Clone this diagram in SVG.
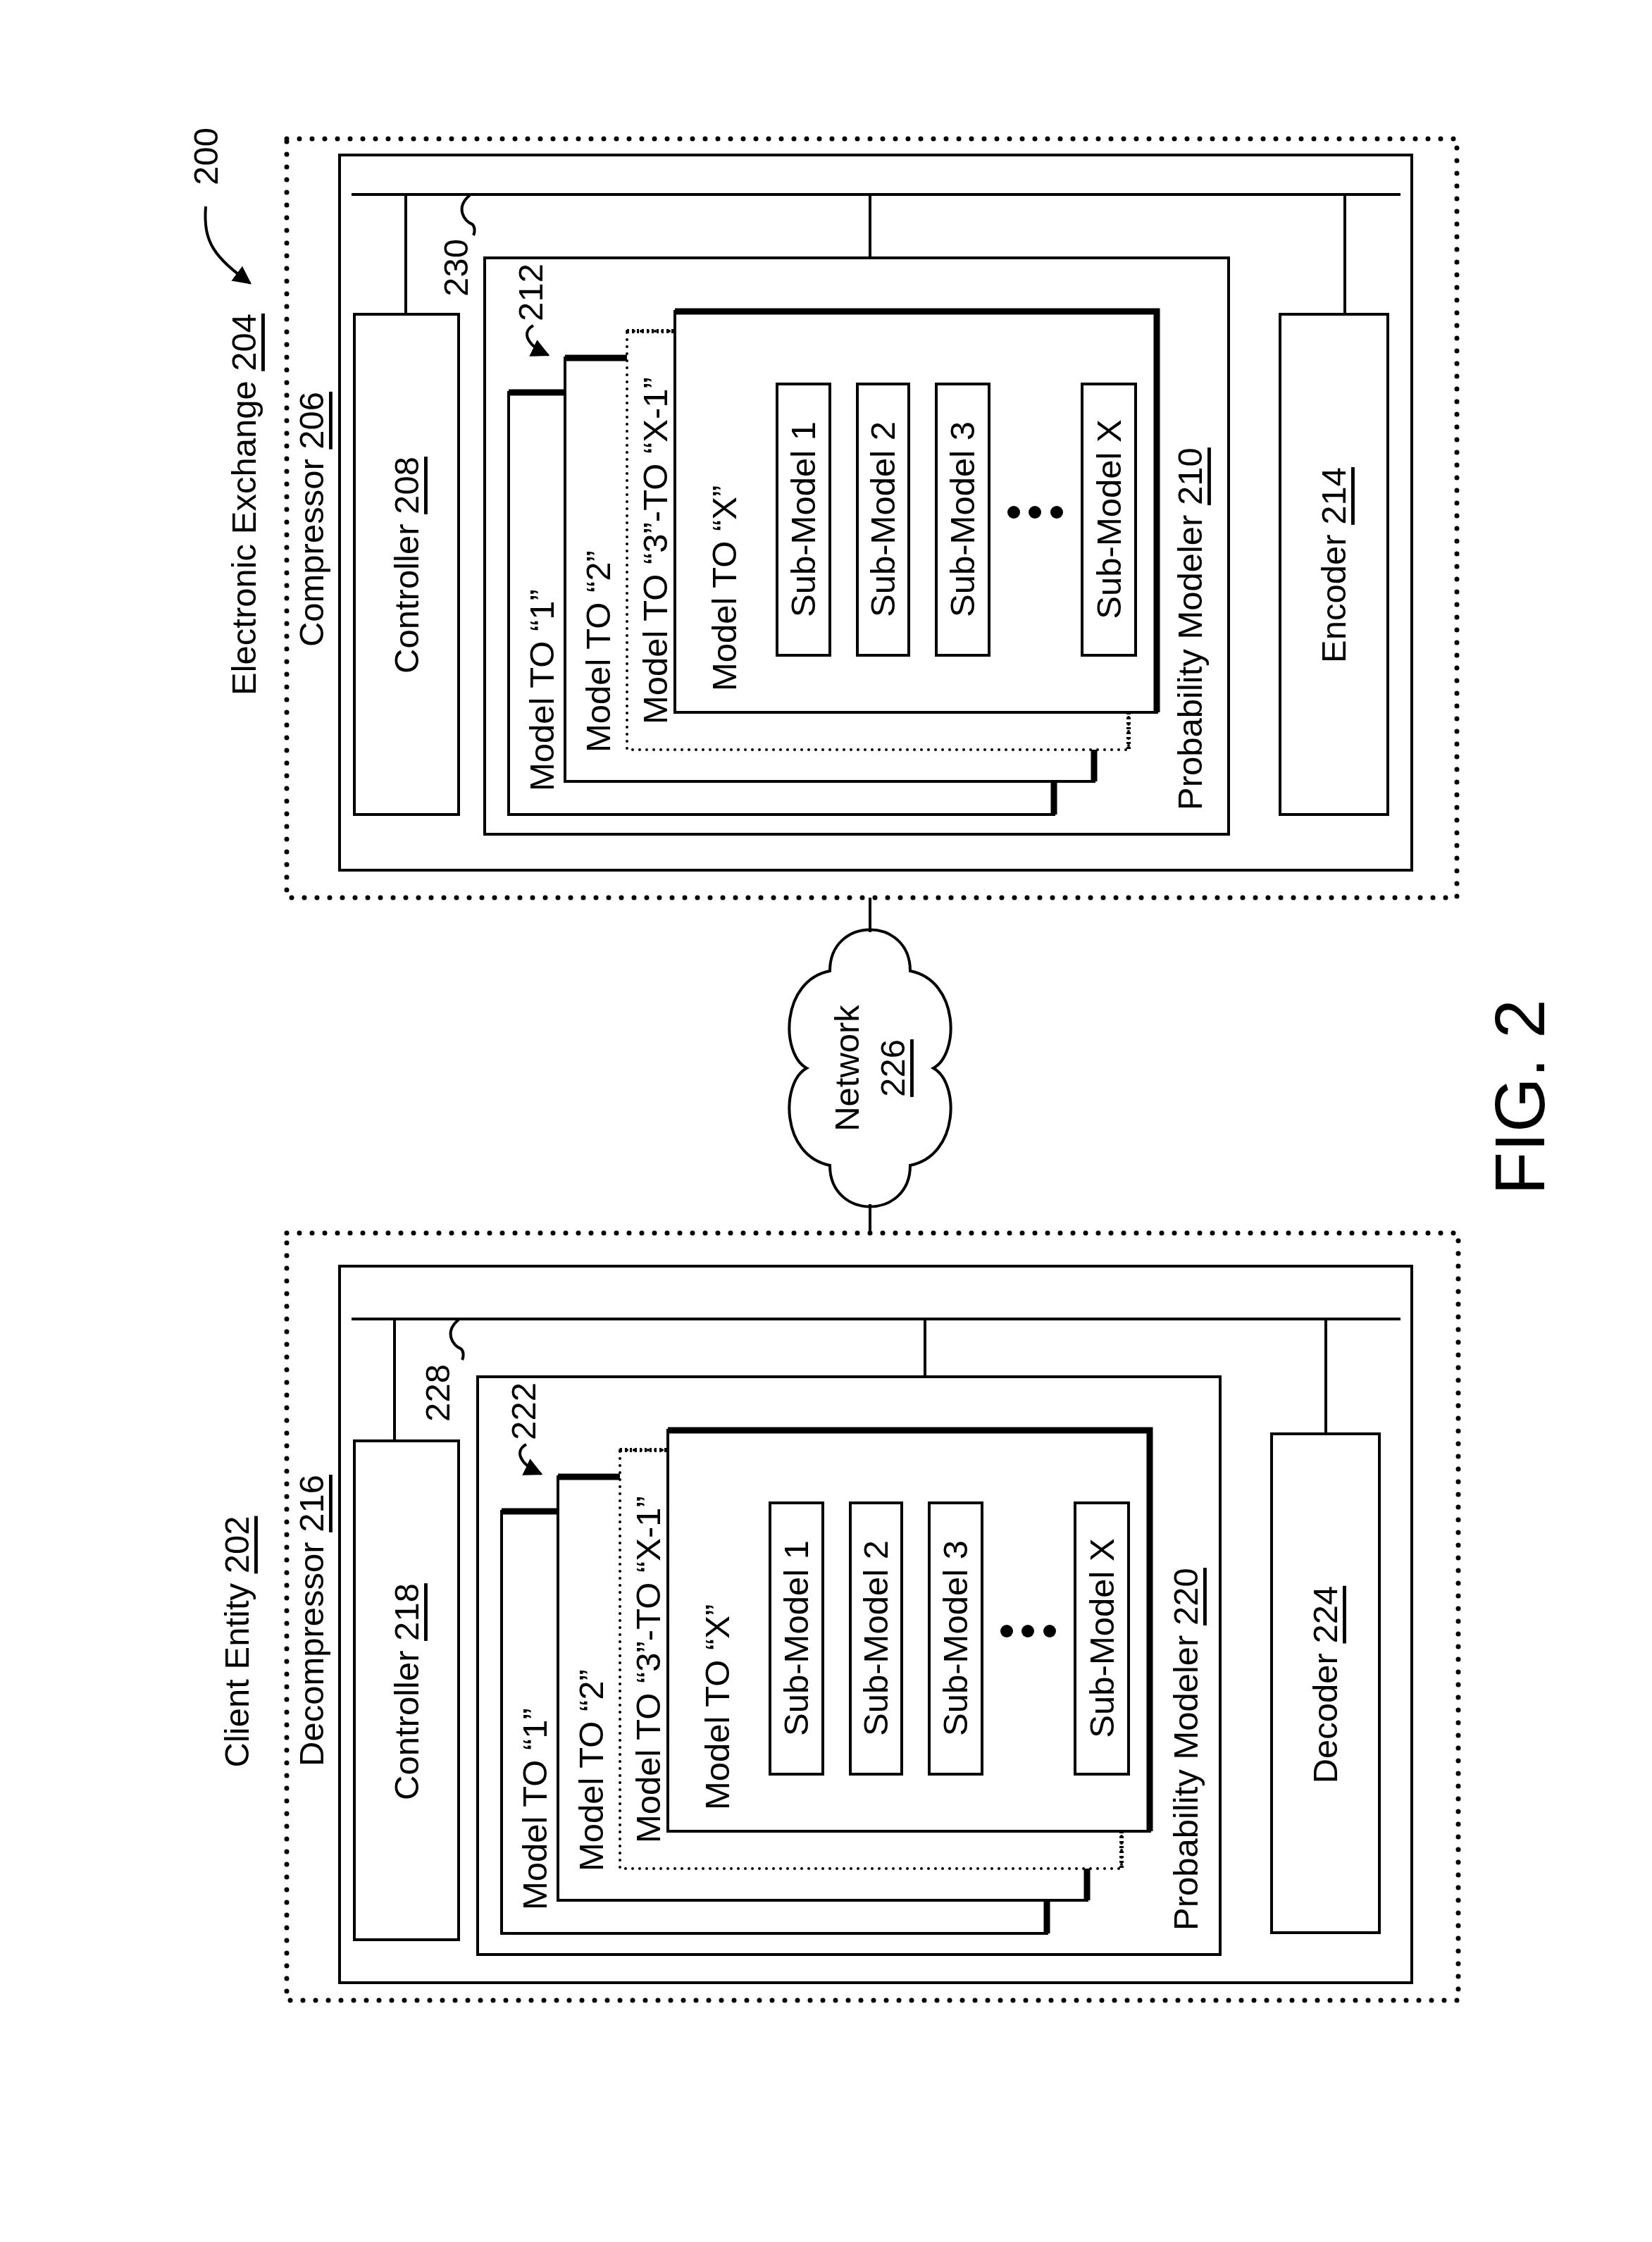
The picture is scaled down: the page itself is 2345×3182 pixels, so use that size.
<svg xmlns="http://www.w3.org/2000/svg" width="2345" height="3182" viewBox="0 0 2345 3182">
<style>
text{font-family:"Liberation Sans",Arial,sans-serif;font-size:49px;fill:#000;dominant-baseline:central}
.box{fill:#fff;stroke:#000;stroke-width:4}
.frame{fill:none;stroke:#000;stroke-width:4}
.dotb{fill:none;stroke:#000;stroke-width:7;stroke-dasharray:0 18;stroke-linecap:round}
.dotc{fill:#fff;stroke:#000;stroke-width:4;stroke-dasharray:0 10;stroke-linecap:round}
.thick{stroke:#000;stroke-width:9;fill:none}
.ln{stroke:#000;stroke-width:4;fill:none}
.u{text-decoration:underline}
</style>
<defs>
<marker id="ah2" viewBox="0 0 10 10" refX="9" refY="5" markerWidth="26" markerHeight="26" orient="auto" markerUnits="userSpaceOnUse">
<path d="M0,0 L10,5 L0,10 Z"/>
</marker>
<g id="cards">
<rect class="box" x="722" y="557" width="774" height="599"/>
<path class="thick" d="M722,557 H1496 V1156"/>
<rect class="box" x="802" y="508" width="751" height="601"/>
<path class="thick" d="M802,508 H1553 V1109"/>
<rect class="dotc" x="890" y="470" width="712" height="594"/>
<path d="M890,470 H1602 V1064" fill="none" stroke="#000" stroke-width="6" stroke-dasharray="3 4"/>
<rect class="box" x="958" y="442" width="684" height="569"/>
<path class="thick" d="M958,442 H1642 V1011"/>
<text transform="translate(769,1123) rotate(-90)">Model TO “1”</text>
<text transform="translate(849,1068) rotate(-90)">Model TO “2”</text>
<text transform="translate(930,1028) rotate(-90)">Model TO “3”-TO “X-1”</text>
<text transform="translate(1028,981) rotate(-90)">Model TO “X”</text>
<rect class="box" x="1103" y="545" width="75" height="385"/>
<rect class="box" x="1217" y="545" width="73" height="385"/>
<rect class="box" x="1329" y="545" width="75" height="385"/>
<rect class="box" x="1536" y="545" width="76" height="385"/>
<text transform="translate(1140,737) rotate(-90)" text-anchor="middle">Sub-Model 1</text>
<text transform="translate(1253,737) rotate(-90)" text-anchor="middle">Sub-Model 2</text>
<text transform="translate(1366,737) rotate(-90)" text-anchor="middle">Sub-Model 3</text>
<text transform="translate(1574,737) rotate(-90)" text-anchor="middle">Sub-Model X</text>
<circle cx="1439" cy="727" r="9"/><circle cx="1469" cy="727" r="9"/><circle cx="1500" cy="727" r="9"/>
<path class="ln" d="M757,462 C742,470 744,488 778,504" marker-end="url(#ah2)"/>
</g>
</defs>

<g id="label200"><text transform="translate(292,222) rotate(-90)" text-anchor="middle">200</text></g>

<g id="exchange204">
<rect class="dotb" x="407" y="197" width="1661" height="1077"/>
<text transform="translate(346,716) rotate(-90)" text-anchor="middle">Electronic Exchange <tspan class="u">204</tspan></text>
</g>
<g id="compressor206">
<rect class="frame" x="482" y="220" width="1522" height="1015"/>
<text transform="translate(442,737) rotate(-90)" text-anchor="middle">Compressor <tspan class="u">206</tspan></text>
<text transform="translate(647,380) rotate(-90)" text-anchor="middle">230</text>
</g>
<g id="controller208">
<rect class="box" x="503" y="446" width="148" height="710"/>
<text transform="translate(577,802) rotate(-90)" text-anchor="middle">Controller <tspan class="u">208</tspan></text>
</g>
<g id="modeler210">
<rect class="box" x="688" y="366" width="1056" height="818"/>
<text transform="translate(1689,1150) rotate(-90)">Probability Modeler <tspan class="u">210</tspan></text>
<text transform="translate(753,415) rotate(-90)" text-anchor="middle">212</text>
<use href="#cards"/>
</g>
<g id="encoder214">
<rect class="box" x="1817" y="446" width="153" height="710"/>
<text transform="translate(1893,802) rotate(-90)" text-anchor="middle">Encoder <tspan class="u">214</tspan></text>
</g>

<g id="network226">
<path class="ln" fill="#fff" d="M1178,1378 C1178,1300 1292,1300 1292,1378 C1362,1392 1362,1496 1325,1516 C1362,1536 1362,1640 1292,1654 C1292,1732 1178,1732 1178,1654 C1108,1640 1108,1536 1145,1516 C1108,1496 1108,1392 1178,1378 Z"/>
<text transform="translate(1202,1516) rotate(-90)" text-anchor="middle">Network</text>
<text transform="translate(1267,1516) rotate(-90)" text-anchor="middle" class="u">226</text>
</g>

<g id="client202">
<rect class="dotb" x="407" y="1750" width="1663" height="1089"/>
<text transform="translate(336,2330) rotate(-90)" text-anchor="middle">Client Entity <tspan class="u">202</tspan></text>
</g>
<g id="decompressor216">
<rect class="frame" x="482" y="1797" width="1522" height="1017"/>
<text transform="translate(442,2300) rotate(-90)" text-anchor="middle">Decompressor <tspan class="u">216</tspan></text>
<text transform="translate(621,1977) rotate(-90)" text-anchor="middle">228</text>
</g>
<g id="controller218">
<rect class="box" x="503" y="2045" width="148" height="708"/>
<text transform="translate(577,2401) rotate(-90)" text-anchor="middle">Controller <tspan class="u">218</tspan></text>
</g>
<g id="modeler220">
<rect class="box" x="678" y="1954" width="1054" height="820"/>
<text transform="translate(1683,2740) rotate(-90)">Probability Modeler <tspan class="u">220</tspan></text>
<text transform="translate(743,2003) rotate(-90)" text-anchor="middle">222</text>
<use href="#cards" transform="translate(-10,1588)"/>
</g>
<g id="decoder224">
<rect class="box" x="1805" y="2035" width="153" height="708"/>
<text transform="translate(1881,2391) rotate(-90)" text-anchor="middle">Decoder <tspan class="u">224</tspan></text>
</g>

<g id="connectors">
<line class="ln" x1="499" y1="276" x2="1988" y2="276"/>
<line class="ln" x1="576" y1="276" x2="576" y2="446"/>
<line class="ln" x1="1235" y1="276" x2="1235" y2="366"/>
<line class="ln" x1="1909" y1="276" x2="1909" y2="446"/>
<line class="ln" x1="499" y1="1872" x2="1988" y2="1872"/>
<line class="ln" x1="560" y1="1872" x2="560" y2="2045"/>
<line class="ln" x1="1313" y1="1872" x2="1313" y2="1954"/>
<line class="ln" x1="1882" y1="1872" x2="1882" y2="2035"/>
<line class="ln" x1="1235" y1="1274" x2="1235" y2="1323"/>
<line class="ln" x1="1235" y1="1709" x2="1235" y2="1750"/>
<path class="ln" d="M292,293 C288,345 305,365 355,402" marker-end="url(#ah2)"/>
<path class="ln" d="M667,277 C645,295 660,315 670,318 C675,322 674,330 672,334"/>
<path class="ln" d="M651,1873 C629,1891 644,1911 654,1914 C659,1918 658,1926 656,1930"/>
</g>

<g id="fig"><text transform="translate(2157,1557) rotate(-90)" text-anchor="middle" style="font-size:100px">FIG. 2</text></g>
</svg>
